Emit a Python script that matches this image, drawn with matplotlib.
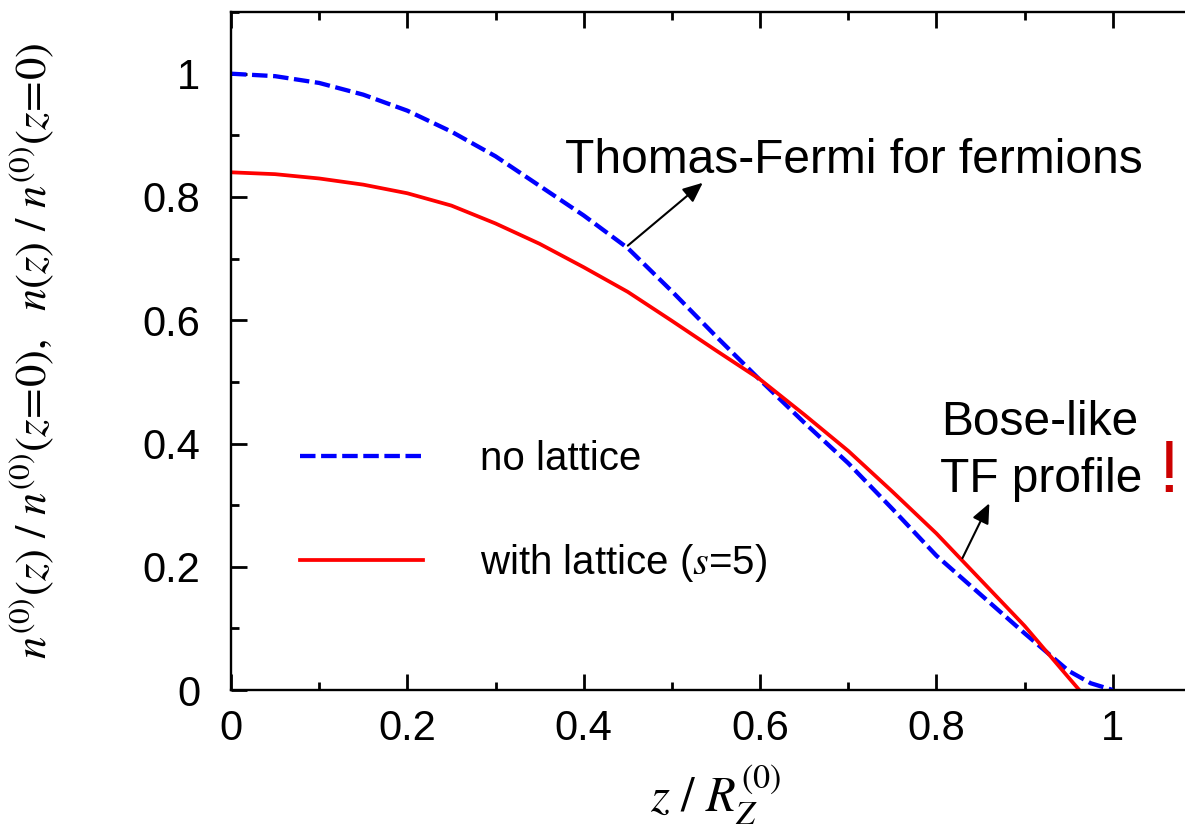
import matplotlib
matplotlib.use("Agg")
import matplotlib.pyplot as plt
from matplotlib.ticker import MultipleLocator, FixedLocator, FixedFormatter

plt.rcParams["font.family"] = ["Liberation Sans", "DejaVu Sans"]
plt.rcParams["mathtext.fontset"] = "stix"

# Axial density profiles, normalised to the non-interacting peak
z_free = [0.00, 0.05, 0.10, 0.15, 0.20, 0.25, 0.30, 0.35, 0.40, 0.45, 0.50,
          0.55, 0.60, 0.65, 0.70, 0.75, 0.80, 0.85, 0.90, 0.95, 0.975, 1.00]
n_free = [1.000, 0.996, 0.985, 0.966, 0.940, 0.906, 0.866, 0.818, 0.770, 0.717, 0.647,
          0.574, 0.503, 0.434, 0.368, 0.294, 0.218, 0.155, 0.092, 0.031, 0.011, 0.000]

z_latt = [0.00, 0.05, 0.10, 0.15, 0.20, 0.25, 0.30, 0.35, 0.40, 0.45, 0.50,
          0.55, 0.60, 0.65, 0.70, 0.75, 0.80, 0.85, 0.90, 0.95, 0.962]
n_latt = [0.840, 0.837, 0.830, 0.820, 0.806, 0.786, 0.757, 0.724, 0.686, 0.646, 0.599,
          0.551, 0.504, 0.447, 0.388, 0.322, 0.254, 0.179, 0.104, 0.020, 0.000]

label_free = "no lattice"
label_latt = r"with lattice ($s$=5)"

major_ticks = [0, 0.2, 0.4, 0.6, 0.8, 1.0]
major_labels = ["0", "0.2", "0.4", "0.6", "0.8", "1"]

fig = plt.figure(figsize=(11.85, 8.26), dpi=100)
ax = fig.add_axes([0.1949, 0.1646, 0.8186, 0.8208])

ax.plot(z_free, n_free, color="#0000ff", lw=3.1, linestyle=(0, (3.6, 1.3)),
        label=label_free)
ax.plot(z_latt, n_latt, color="#ff0000", lw=2.7, label=label_latt)

ax.set_xlim(0, 1.1)
ax.set_ylim(0, 1.1)

for axis in (ax.xaxis, ax.yaxis):
    axis.set_major_locator(FixedLocator(major_ticks))
    axis.set_major_formatter(FixedFormatter(major_labels))
    axis.set_minor_locator(MultipleLocator(0.1))

ax.tick_params(which="both", direction="in", top=True, right=True, width=2,
               labelsize=30)
ax.tick_params(which="major", length=11.5)
ax.tick_params(which="minor", length=6)
ax.tick_params(axis="x", pad=14)
ax.tick_params(axis="y", pad=22)
for sp in ax.spines.values():
    sp.set_linewidth(1.7)

ax.set_xlabel(r"$z\ /\ R_Z^{(0)}$", fontsize=35, labelpad=10)
ax.set_ylabel(r"$n^{(0)}(z)\ /\ n^{(0)}(z\!=\!0),\ \ n(z)\ /\ n^{(0)}(z\!=\!0)$",
              fontsize=32, labelpad=62)

leg = ax.legend(loc="upper left", bbox_to_anchor=(0.055, 0.393), frameon=False,
                fontsize=29, handlelength=3.05, handletextpad=1.4,
                labelspacing=1.6, borderaxespad=0)

arrow = dict(arrowstyle="-|>,head_length=0.8,head_width=0.35", color="black",
             lw=1.5, mutation_scale=15, shrinkA=0, shrinkB=0)
ax.annotate("", xy=(0.535, 0.823), xytext=(0.450, 0.721), arrowprops=arrow)
ax.annotate("", xy=(0.860, 0.303), xytext=(0.8295, 0.214), arrowprops=arrow)

ax.text(0.3785, 0.8395, "Thomas-Fermi for fermions", fontsize=34.5,
        ha="left", va="baseline")
ax.text(0.8055, 0.413, "Bose-like", fontsize=34.5, ha="left", va="baseline")
ax.text(0.8035, 0.321, "TF profile", fontsize=34.5, ha="left", va="baseline")
ax.text(1.052, 0.321, "!", fontsize=54, color="#cc0000", ha="left",
        va="baseline")

fig.savefig("out.png", dpi=100)
